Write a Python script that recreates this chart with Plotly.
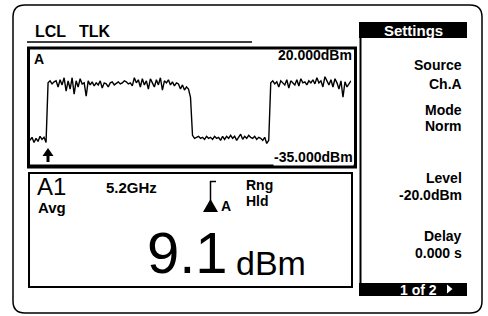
import plotly.graph_objects as go

# ---- data: trace samples in dBm ----
low1 = [-24, -22.5, -25, -23, -24.5, -22, -23.5, -22.5, -25]
high1 = [4, 5, 3.5, 4.5, 5, 2, 5.5, 3, 6.5, 0,
         5, 1, 6.5, -1.5, 5, 2, 6, 3.5, 4, -2.5,
         5, 3, 4.5, 2.5, 4, 3, 5, 1.5, 4, 3.5,
         2, 4, 4.5, 3, 4, 4.5, 3.5, 4, 5, 4.5,
         3.5, 4, 2.5, 6.5, 4, 5.5, 2, 6, 3, 5,
         1, 6, 4, 2, 5.5, 3, 6.5, 0.5, 5, 4,
         5.5, 3, 4.5, 2.5, 4, 3.5, 1, 3, 0.5, 2,
         1, -3]
low2 = [-21.5, -23, -22.5, -22, -23, -22.5, -23.5, -22, -23, -22.5,
        -23.5, -22, -23, -22.5, -24, -22, -23.5, -22, -23, -21.5,
        -23, -22, -24, -22.5, -21, -23.5, -22, -23, -21.5, -22.5,
        -23, -22, -23.5, -22.5, -23, -24, -22.5, -25.5, -24]
high2 = [4, 5, 3.5, 4.5, 2, 5, 4, 3, 5.5, 1.5,
         5, 4, 3, 5.5, 2.5, 6, 4, 4.5, 3, 5,
         4, 5.5, 3.5, 6.5, 4, 5, 2, 7, 4.5, 3,
         5.5, 2, 6, 4, 1, 5, -3, 4.5, 2, 3.5, 5]
trace_dbm = low1 + high1 + low2 + high2
sample = list(range(len(trace_dbm)))
y_top_dbm = 20.0
y_bot_dbm = -35.0
top_label = "20.000dBm"
bot_label = "-35.000dBm"

header_items = ["LCL", "TLK"]
menu_title = "Settings"
menu_labels = ["Source", "Mode", "Level", "Delay"]
menu_values = ["Ch.A", "Norm", "-20.0dBm", "0.000 s"]
page_text = "1 of 2"
freq_text = "5.2GHz"
reading_value = "9.1"
reading_unit = "dBm"

W, H = 488, 316
BOLD = "Liberation Sans, Arial, sans-serif"

fig = go.Figure()
fig.add_trace(go.Scatter(x=sample, y=trace_dbm, mode="lines",
                         line=dict(color="black", width=1.4),
                         xaxis="x2", yaxis="y2", hoverinfo="skip", showlegend=False))

shapes = []
def line(x0, y0, x1, y1, w=1.5, color="black"):
    shapes.append(dict(type="line", xref="x", yref="y", x0=x0, y0=y0, x1=x1, y1=y1,
                       line=dict(color=color, width=w)))
def rect(x0, y0, x1, y1, w=1.5, fill=None, lc="black"):
    d = dict(type="rect", xref="x", yref="y", x0=x0, y0=y0, x1=x1, y1=y1,
             line=dict(color=lc, width=w))
    if fill:
        d["fillcolor"] = fill
    shapes.append(d)
def path(p, w=1.5, fill=None, lc="black"):
    d = dict(type="path", xref="x", yref="y", path=p, line=dict(color=lc, width=w))
    if fill:
        d["fillcolor"] = fill
    shapes.append(d)

# outer rounded frame
path("M 25,5 L 470,5 Q 482,5 482,17 L 482,301 Q 482,313 470,313 L 25,313 "
     "Q 13,313 13,301 L 13,17 Q 13,5 25,5 Z", w=1.5)
# header underline
line(27, 42, 252, 42, w=1.5)
# trace box
rect(28.5, 48, 355.5, 166, w=3)
line(27, 167, 357, 167, w=3)
# lower box
rect(29, 173, 352, 287, w=2)
# settings panel
rect(359, 22, 467, 38, w=0, fill="black")
line(360.5, 37, 360.5, 284, w=2)
rect(359, 283, 467, 296, w=0, fill="black")
path("M 447,284.5 L 447,293.5 L 452.5,289 Z", w=0, fill="white", lc="white")
# trigger arrow in trace box
path("M 42.5,156 L 53.5,156 L 48,148 Z", w=0, fill="black")
rect(46.5, 155, 49.5, 162, w=0, fill="black")
# trigger symbol in lower box
line(210, 181.5, 216, 181.5, w=1.5)
line(210.5, 181, 210.5, 203, w=1.5)
path("M 203,212 L 218,212 L 210.5,199 Z", w=0, fill="black")

ann = []
def text(x, y, s, size=13, anchor="left", color="black", bold=True, bg=None, family=BOLD):
    a = dict(x=x, y=y, xref="x", yref="y", text=(f"<b>{s}</b>" if bold else s),
             showarrow=False, xanchor=anchor, yanchor="middle",
             font=dict(family=family, size=size, color=color))
    if bg:
        a["bgcolor"] = bg
        a["borderpad"] = 0
    ann.append(a)

text(33, 31, header_items[0], size=16)
text(77, 31, header_items[1], size=16)
text(413, 30, menu_title, size=15, anchor="center", color="white")
ys = [(65, 84), (110, 126), (178, 195), (236, 253)]
for (yl, yv), lab, val in zip(ys, menu_labels, menu_values):
    text(464, yl, lab, size=14, anchor="right")
    text(464, yv, val, size=14, anchor="right")
text(439, 289.5, page_text, size=14, anchor="right", color="white")
text(32, 59, "A", size=14)
text(354, 55, top_label, size=14, anchor="right")
text(354, 157, bot_label, size=14, anchor="right", bg="white")
text(35, 186, "A1", size=24, bold=False)
text(36, 207, "Avg", size=15)
text(104, 187, freq_text, size=15)
text(219, 206, "A", size=14)
text(244, 185, "Rng", size=14)
text(244, 201, "Hld", size=14)
text(145, 252, reading_value, size=58, bold=False)
text(234, 263, reading_unit, size=34, bold=False)

fig.update_layout(
    width=W, height=H, autosize=False,
    margin=dict(l=0, r=0, t=0, b=0),
    paper_bgcolor="white", plot_bgcolor="rgba(0,0,0,0)",
    xaxis=dict(range=[0, W], domain=[0, 1], visible=False, fixedrange=True),
    yaxis=dict(range=[H, 0], domain=[0, 1], visible=False, fixedrange=True),
    xaxis2=dict(range=[0, len(trace_dbm) - 1], domain=[30 / W, 351 / W], anchor="y2",
                visible=False),
    yaxis2=dict(range=[y_bot_dbm, y_top_dbm], domain=[1 - 163 / H, 1 - 50 / H], anchor="x2",
                visible=False),
    shapes=shapes, annotations=ann, showlegend=False,
)
fig.write_html("out.html", config={"displayModeBar": False},
               post_script="document.body.style.margin='0px';")
